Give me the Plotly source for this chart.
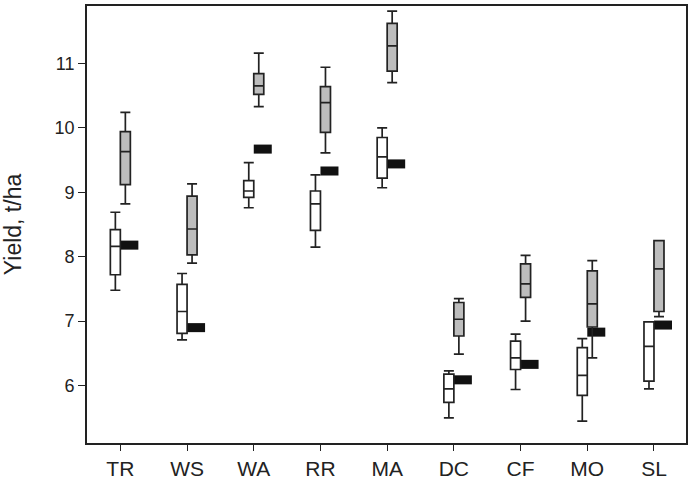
import plotly.graph_objects as go

# categories
sites = ['TR', 'WS', 'WA', 'RR', 'MA', 'DC', 'CF', 'MO', 'SL']

# white boxes
white_low = [7.48, 6.71, 8.76, 8.15, 9.07, 5.50, 5.94, 5.45, 5.95]
white_q1 = [7.72, 6.81, 8.92, 8.41, 9.22, 5.74, 6.25, 5.85, 6.07]
white_med = [8.16, 7.15, 9.02, 8.82, 9.55, 5.95, 6.43, 6.16, 6.61]
white_q3 = [8.42, 7.57, 9.18, 9.02, 9.85, 6.18, 6.69, 6.59, 6.99]
white_high = [8.69, 7.74, 9.46, 9.27, 10.00, 6.23, 6.80, 6.73, 6.99]

# gray boxes
gray_low = [8.82, 7.90, 10.33, 9.61, 10.70, 6.49, 7.00, 6.43, 7.07]
gray_q1 = [9.12, 8.03, 10.52, 9.93, 10.88, 6.77, 7.37, 6.91, 7.15]
gray_med = [9.63, 8.43, 10.65, 10.39, 11.27, 7.03, 7.58, 7.27, 7.81]
gray_q3 = [9.94, 8.94, 10.84, 10.64, 11.62, 7.29, 7.89, 7.78, 8.25]
gray_high = [10.24, 9.13, 11.16, 10.94, 11.81, 7.35, 8.02, 7.94, 8.25]

# black markers
black_val = [8.18, 6.90, 9.67, 9.33, 9.44, 6.09, 6.33, 6.83, 6.94]

idx = list(range(len(sites)))
line_col = '#222222'

fig = go.Figure()

fig.add_trace(go.Box(
    x=[i - 0.075 for i in idx],
    q1=white_q1, median=white_med, q3=white_q3,
    lowerfence=white_low, upperfence=white_high,
    width=0.15, whiskerwidth=1,
    fillcolor='white',
    line=dict(color=line_col, width=1.7),
    showlegend=False
))

fig.add_trace(go.Box(
    x=[i + 0.075 for i in idx],
    q1=gray_q1, median=gray_med, q3=gray_q3,
    lowerfence=gray_low, upperfence=gray_high,
    width=0.15, whiskerwidth=1,
    fillcolor='#bdbdbd',
    line=dict(color=line_col, width=1.7),
    showlegend=False
))

fig.add_trace(go.Bar(
    x=[i + 0.135 for i in idx],
    base=[v - 0.07 for v in black_val],
    y=[0.14] * len(black_val),
    width=0.27,
    marker=dict(color='#111111', line=dict(width=0)),
    showlegend=False
))

fig.update_layout(
    width=692, height=485,
    margin=dict(l=87, r=5, t=4, b=42),
    paper_bgcolor='white', plot_bgcolor='white',
    font=dict(family='Liberation Sans, Arial, sans-serif', color='#222222'),
    showlegend=False,
    xaxis=dict(
        range=[-0.5, 8.48],
        tickvals=idx, ticktext=sites,
        tickfont=dict(size=21),
        ticks='outside', ticklen=6, tickwidth=1.4, tickcolor=line_col,
        showline=True, linecolor=line_col, linewidth=1.8, mirror=True,
        showgrid=False, zeroline=False
    ),
    yaxis=dict(
        range=[5.11, 11.89],
        tickvals=[6, 7, 8, 9, 10, 11],
        tickfont=dict(size=18),
        ticks='outside', ticklen=7, tickwidth=1.4, tickcolor=line_col,
        showline=True, linecolor=line_col, linewidth=1.8, mirror=True,
        showgrid=False, zeroline=False,
        title=dict(text='Yield, t/ha', font=dict(size=23), standoff=28)
    )
)

fig.write_html('out.html', config={'displayModeBar': False},
               post_script="document.body.style.margin='0';")
